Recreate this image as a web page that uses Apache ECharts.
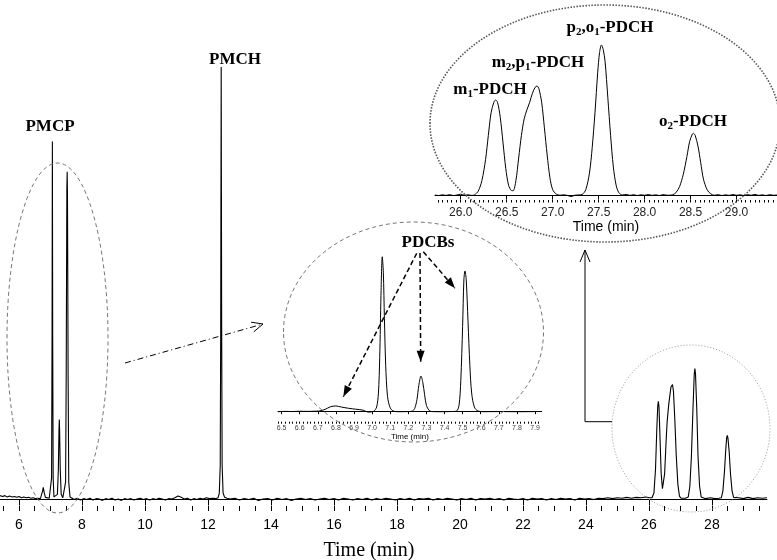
<!DOCTYPE html>
<html>
<head>
<meta charset="utf-8">
<script src="https://cdn.jsdelivr.net/npm/echarts@6/dist/echarts.min.js"></script>
<style>
html, body { margin: 0; padding: 0; background: #fff; }
#chart { width: 777px; height: 560px; }
</style>
</head>
<body>
<div id="chart"></div>
<script>
// full run, time (min) vs detector signal (arbitrary units, PMCH apex = 100)
const mainTrace = [
  [5.40,0.9],[5.48,0.7],[5.55,0.9],[5.63,0.6],[5.70,0.8],[5.78,0.6],[5.85,0.7],[5.93,0.5],[6.00,0.7],[6.08,0.4],
  [6.15,0.6],[6.23,0.4],[6.30,0.5],[6.38,0.3],[6.45,0.4],[6.53,0.2],[6.60,0.3],[6.68,0.2],
  [6.72,0.5],[6.75,2.0],[6.77,2.8],[6.80,1.6],[6.84,0.5],[6.90,0.2],[6.96,0.3],
  [7.01,0.3],[7.035,5],[7.05,38],[7.06,82.8],[7.07,38],[7.085,5],[7.11,0.6],
  [7.17,0.3],[7.22,1.2],[7.25,7],[7.27,16],[7.28,18.5],[7.29,16],[7.31,7],[7.34,1.2],[7.39,0.4],
  [7.44,0.3],[7.48,4],[7.50,30],[7.52,72],[7.53,75.8],[7.54,70],[7.56,28],[7.58,4],[7.62,0.6],[7.67,0.2],
  [7.75,0.0],[7.85,0.3],[7.95,-0.1],[8.05,0.2],[8.15,0.0],[8.25,0.3],[8.35,-0.1],[8.45,0.2],[8.55,0.1],[8.65,-0.2],
  [8.75,0.2],[8.85,0.0],[8.95,0.3],[9.05,-0.1],[9.15,0.1],[9.25,-0.2],[9.35,0.2],[9.45,0.0],[9.55,0.2],[9.65,-0.1],
  [9.75,0.1],[9.85,0.3],[9.95,0.0],[10.05,0.2],[10.15,-0.1],[10.25,0.2],[10.35,0.0],[10.45,0.3],[10.55,0.1],[10.65,-0.1],
  [10.75,0.2],[10.85,0.1],[10.95,0.4],[11.05,0.8],[11.15,0.5],[11.25,0.1],[11.35,0.3],[11.45,-0.1],[11.55,0.2],[11.65,0.0],
  [11.75,0.3],[11.85,0.1],[11.95,0.4],[12.05,0.2],[12.15,0.3],[12.25,0.2],
  [12.32,0.4],[12.36,1.5],[12.39,8],[12.405,40],[12.42,100],[12.435,40],[12.45,8],[12.48,1.5],[12.53,0.5],[12.60,0.3],
  [12.70,0.1],[12.85,0.3],[13.00,-0.1],[13.15,0.2],[13.30,0.0],[13.45,0.3],[13.60,-0.2],[13.75,0.1],[13.90,0.2],[14.05,-0.1],
  [14.20,0.3],[14.35,0.0],[14.50,0.2],[14.65,-0.2],[14.80,0.1],[14.95,0.3],[15.10,0.0],[15.25,0.2],[15.40,-0.1],[15.55,0.1],
  [15.70,0.3],[15.85,0.0],[16.00,0.2],[16.15,-0.1],[16.30,0.3],[16.45,0.1],[16.60,-0.1],[16.75,0.2],[16.90,0.0],[17.05,0.3],
  [17.20,-0.1],[17.35,0.2],[17.50,0.0],[17.65,0.3],[17.80,0.1],[17.95,-0.1],[18.10,0.2],[18.25,0.0],[18.40,0.3],[18.55,-0.1],
  [18.70,0.2],[18.85,0.1],[19.00,0.3],[19.15,-0.1],[19.30,0.2],[19.45,0.0],[19.60,0.3],[19.75,0.1],[19.90,-0.1],[20.05,0.2],
  [20.20,0.0],[20.35,0.3],[20.50,-0.1],[20.65,0.2],[20.80,0.1],[20.95,0.3],[21.10,0.0],[21.25,0.2],[21.40,-0.1],[21.55,0.3],
  [21.70,0.1],[21.85,0.0],[22.00,0.2],[22.15,-0.1],[22.30,0.3],[22.45,0.1],[22.60,0.2],[22.75,-0.1],[22.90,0.2],[23.05,0.0],
  [23.20,0.3],[23.35,0.1],[23.50,0.2],[23.65,-0.1],[23.80,0.3],[23.95,0.1],[24.10,0.2],[24.25,0.0],[24.40,0.3],[24.55,0.2],
  [24.70,0.4],[24.85,0.2],[25.00,0.4],[25.15,0.3],[25.30,0.5],[25.45,0.3],[25.60,0.5],[25.75,0.4],[25.90,0.6],[26.02,0.4],
  [26.10,0.4],[26.16,1.5],[26.21,7],[26.25,16],[26.28,21.5],[26.30,22.7],[26.32,21.5],[26.35,15],[26.39,6],[26.43,2.5],[26.46,2.6],
  [26.50,6],[26.55,14],[26.58,18],[26.63,22],[26.70,26],[26.75,26.6],[26.78,25],[26.82,19],[26.87,10],[26.92,3.5],[26.97,0.8],[27.02,0.3],
  [27.08,0.2],[27.16,0.3],
  [27.25,0.6],[27.30,3],[27.35,10],[27.40,21],[27.44,29],[27.46,30.3],[27.48,29],[27.52,21],[27.56,10],[27.61,3],[27.66,0.6],[27.72,0.2],
  [27.80,0.2],[27.95,0.4],[28.10,0.2],[28.22,0.3],
  [28.30,0.4],[28.35,2],[28.40,6.5],[28.44,11.5],[28.47,14.3],[28.49,14.8],[28.51,14.2],[28.55,11],[28.59,6],[28.64,2],[28.69,0.5],[28.75,0.2],
  [28.85,0.4],[29.00,0.2],[29.15,0.5],[29.30,0.2],[29.45,0.4],[29.60,0.3],[29.75,0.4]
];

// zoom on the PDCH group, PDCH p2,o1 apex = 100
const pdchTrace = [
  [25.72,0.5],[25.76,0.1],[25.80,0.6],[25.84,0.2],[25.88,0.7],[25.92,0.1],[25.96,0.5],[26.00,1.0],[26.04,0.3],[26.08,0.6],[26.12,0.2],
  [26.15,0.6],[26.19,3],[26.23,10],[26.27,24],[26.30,40],[26.33,55],[26.36,62],[26.38,63.5],[26.40,62],[26.43,52],[26.46,35],
  [26.49,18],[26.52,7],[26.55,3.5],[26.57,3.3],
  [26.60,10],[26.63,25],[26.66,40],[26.69,51],[26.72,57],[26.75,62],[26.78,68],[26.81,72],[26.83,72.8],[26.85,71],[26.88,62],
  [26.91,45],[26.94,27],[26.97,12],[27.00,4],[27.04,1],[27.08,0.3],
  [27.12,0.6],[27.16,0.2],[27.20,-0.6],[27.24,0.3],[27.28,0.5],
  [27.32,0.8],[27.36,4],[27.40,15],[27.43,32],[27.46,55],[27.49,82],[27.51,95],[27.53,100],[27.55,97],[27.57,89],[27.60,65],
  [27.63,40],[27.66,19],[27.69,7],[27.72,2],[27.76,0.5],
  [27.80,0.9],[27.84,0.2],[27.88,0.7],[27.92,0.1],[27.96,0.6],[28.00,0.3],[28.04,0.8],[28.08,0.2],[28.12,0.6],[28.16,0.1],[28.20,0.7],[28.25,0.3],
  [28.30,0.5],[28.34,2],[28.38,6],[28.42,14],[28.46,26],[28.49,36],[28.52,41],[28.53,41.4],[28.55,40],[28.58,33],[28.61,22],
  [28.64,11],[28.68,4],[28.72,1.2],[28.76,0.3],
  [28.80,0.7],[28.84,0.1],[28.88,0.6],[28.92,0.2],[28.96,0.8],[29.00,0.3],[29.04,0.6],[29.08,0.1],[29.12,0.7],[29.16,0.3],
  [29.20,0.9],[29.24,0.2],[29.28,0.6],[29.32,0.1],[29.36,0.7],[29.40,0.3],[29.44,0.5]
];

// zoom on the PMCP region (PDCB peaks), first PDCB apex = 100
const pdcbTrace = [
  [6.48,0.0],[6.52,0.2],[6.56,0.1],[6.60,0.3],[6.64,0.2],[6.68,0.3],[6.71,0.5],[6.74,1.5],[6.77,3.2],[6.80,3.7],
  [6.83,3.0],[6.87,2.2],[6.91,1.6],[6.95,1.0],[6.98,-0.3],[7.00,0.0],
  [7.01,0.3],[7.025,3],[7.035,12],[7.042,35],[7.049,75],[7.056,100],[7.062,90],[7.068,60],[7.075,30],[7.085,10],[7.10,2.5],[7.12,0.3],
  [7.15,0.0],[7.20,0.1],
  [7.22,0.3],[7.235,2],[7.248,8],[7.258,17],[7.27,23],[7.28,19],[7.29,11],[7.30,4],[7.315,0.8],[7.33,0.1],
  [7.38,0.0],[7.43,0.1],
  [7.465,0.3],[7.48,4],[7.49,20],[7.50,55],[7.507,85],[7.513,90.8],[7.52,85],[7.53,58],[7.54,30],[7.55,12],[7.565,3],[7.585,0.4],
  [7.62,0.0],[7.70,0.1],[7.80,0.0],[7.92,0.1]
];

const mainTickLabels = [6, 8, 10, 12, 14, 16, 18, 20, 22, 24, 26, 28];
const pdchTickLabels = [26.0, 26.5, 27.0, 27.5, 28.0, 28.5, 29.0];
const pdcbTickLabels = [6.5, 6.6, 6.7, 6.8, 6.9, 7.0, 7.1, 7.2, 7.3, 7.4, 7.5, 7.6, 7.7, 7.8, 7.9];

let steps = (from, to, step) => {
    let out = [];
    for (let v = from; v <= to + 1e-9; v += step) out.push(Math.round(v * 1000) / 1000);
    return out;
};

let arrowHead = (x1, y1, x2, y2, len, half) => {
    let a = Math.atan2(y2 - y1, x2 - x1);
    let bx = x2 - len * Math.cos(a), by = y2 - len * Math.sin(a);
    return [[bx + half * Math.sin(a), by - half * Math.cos(a)], [x2, y2], [bx - half * Math.sin(a), by + half * Math.cos(a)]];
};

let bold = { fontFamily: 'Liberation Serif', fontWeight: 'bold', fontSize: 17, lineHeight: 20 };
let sub = { fontFamily: 'Liberation Serif', fontWeight: 'bold', fontSize: 11, lineHeight: 10, verticalAlign: 'bottom' };
let label = (x, y, text) => ({
    type: 'text', x: x, y: y, z: 100,
    style: { text: text, rich: { b: bold, s: sub }, align: 'center', verticalAlign: 'middle', fill: '#000' }
});

let dashArrow = (x1, y1, x2, y2) => [
    { type: 'line', z: 100, shape: { x1: x1, y1: y1, x2: x2, y2: y2 },
      style: { stroke: '#000', lineWidth: 1.5, lineDash: [5, 3] } },
    { type: 'polygon', z: 100, shape: { points: arrowHead(x1, y1, x2, y2, 11, 4) }, style: { fill: '#000' } }
];

let chart = echarts.init(document.getElementById('chart'));

chart.setOption({
    animation: false,
    grid: [
        { left: 0, right: 10, top: 67, bottom: 54, outerBoundsMode: 'none' },
        { left: 435, right: 0, top: 45, bottom: 360, outerBoundsMode: 'none' },
        { left: 278, right: 235.3, top: 256.7, bottom: 138.3, outerBoundsMode: 'none' }
    ],
    xAxis: [
        {
            gridIndex: 0, type: 'value', min: 5.397, max: 29.75, position: 'bottom',
            axisLine: { show: true, lineStyle: { color: '#000', width: 1 } },
            axisTick: { show: true, length: 6, customValues: mainTickLabels, lineStyle: { color: '#000' } },
            axisLabel: { customValues: mainTickLabels, fontSize: 14, color: '#000', margin: 12, fontFamily: 'Liberation Sans' },
            splitLine: { show: false },
            name: 'Time (min)', nameLocation: 'middle', nameGap: 35,
            nameTextStyle: { fontFamily: 'Liberation Serif', fontSize: 20, color: '#000', padding: [0, 29, 0, 0] }
        },
        {
            gridIndex: 0, type: 'value', min: 5.397, max: 29.75, position: 'bottom', offset: 0,
            axisLine: { show: false },
            axisTick: { show: true, length: 5, customValues: steps(5.5, 29.5, 0.5), lineStyle: { color: '#000' } },
            axisLabel: { show: false },
            splitLine: { show: false }
        },
        {
            gridIndex: 1, type: 'value', min: 25.72, max: 29.44, position: 'bottom',
            axisLine: { show: true, lineStyle: { color: '#000', width: 1 } },
            axisTick: { show: true, length: 4, customValues: pdchTickLabels, lineStyle: { color: '#000' } },
            axisLabel: {
                customValues: pdchTickLabels, fontSize: 12, color: '#222', margin: 7, fontFamily: 'Liberation Sans',
                formatter: v => v.toFixed(1)
            },
            splitLine: { show: false },
            name: 'Time (min)', nameLocation: 'middle', nameGap: 20,
            nameTextStyle: { fontFamily: 'Liberation Sans', fontSize: 14, color: '#000' }
        },
        {
            gridIndex: 1, type: 'value', min: 25.72, max: 29.44, position: 'bottom', offset: 0,
            axisLine: { show: false },
            axisTick: { show: true, length: 2.5, customValues: steps(25.75, 29.4, 0.05), lineStyle: { color: '#000' } },
            axisLabel: { show: false },
            splitLine: { show: false }
        },
        {
            gridIndex: 2, type: 'value', min: 6.48, max: 7.937, position: 'bottom',
            axisLine: { show: true, lineStyle: { color: '#000', width: 1 } },
            axisTick: { show: true, length: 2.5, customValues: pdcbTickLabels, lineStyle: { color: '#000' } },
            axisLabel: {
                customValues: pdcbTickLabels, fontSize: 7, color: '#444', margin: 3, fontFamily: 'Liberation Sans',
                formatter: v => v.toFixed(1)
            },
            splitLine: { show: false },
            name: 'Time (min)', nameLocation: 'middle', nameGap: 11,
            nameTextStyle: { fontFamily: 'Liberation Sans', fontSize: 8, color: '#000' }
        },
        {
            gridIndex: 2, type: 'value', min: 6.48, max: 7.937, position: 'bottom', offset: 0,
            axisLine: { show: false },
            axisTick: { show: true, length: 2, customValues: steps(6.48, 7.92, 0.02), lineStyle: { color: '#000' } },
            axisLabel: { show: false },
            splitLine: { show: false }
        }
    ],
    yAxis: [
        { gridIndex: 0, type: 'value', min: -1.5, max: 100, show: false },
        { gridIndex: 1, type: 'value', min: -2.85, max: 100, show: false },
        { gridIndex: 2, type: 'value', min: -6.45, max: 100, show: false }
    ],
    series: [
        {
            type: 'line', name: 'run', xAxisIndex: 0, yAxisIndex: 0, data: mainTrace,
            showSymbol: false, lineStyle: { color: '#000', width: 1.1 }
        },
        {
            type: 'line', name: 'PDCH', xAxisIndex: 2, yAxisIndex: 1, data: pdchTrace, smooth: 0.3,
            showSymbol: false, lineStyle: { color: '#000', width: 1 }
        },
        {
            type: 'line', name: 'PDCB', xAxisIndex: 4, yAxisIndex: 2, data: pdcbTrace, smooth: 0.3,
            showSymbol: false, lineStyle: { color: '#000', width: 1 }
        }
    ],
    graphic: [
        // circles round the regions
        { type: 'ellipse', z: 90, shape: { cx: 57.5, cy: 338, rx: 50.5, ry: 175 },
          style: { fill: 'none', stroke: '#777', lineWidth: 1, lineDash: [4, 3] } },
        { type: 'ellipse', z: 90, shape: { cx: 413.5, cy: 332, rx: 130, ry: 110 },
          style: { fill: 'none', stroke: '#777', lineWidth: 1, lineDash: [4, 3] } },
        { type: 'ellipse', z: 90, shape: { cx: 605, cy: 123.5, rx: 175, ry: 118.5 },
          style: { fill: 'none', stroke: '#555', lineWidth: 1.6, lineDash: [1.5, 1.5] } },
        { type: 'ellipse', z: 90, shape: { cx: 691, cy: 428.5, rx: 79, ry: 83.5 },
          style: { fill: 'none', stroke: '#999', lineWidth: 1, lineDash: [1, 2] } },
        // dash-dot pointer from the PMCP region
        { type: 'line', z: 100, shape: { x1: 125, y1: 363, x2: 263, y2: 324 },
          style: { stroke: '#000', lineWidth: 1, lineDash: [6, 3, 1, 3] } },
        { type: 'polyline', z: 100, shape: { points: arrowHead(125, 363, 263, 324, 11, 5) },
          style: { stroke: '#000', lineWidth: 1, fill: 'none' } },
        // connector from the PDCH group to its zoom
        { type: 'polyline', z: 100, shape: { points: [[612, 421.7], [585, 421.7], [585, 250]] },
          style: { stroke: '#000', lineWidth: 1, fill: 'none' } },
        { type: 'polyline', z: 100, shape: { points: arrowHead(585, 421.7, 585, 250, 12, 5) },
          style: { stroke: '#000', lineWidth: 1, fill: 'none' } },
        ...dashArrow(416.7, 253.3, 343.3, 396.7),
        ...dashArrow(420, 253, 420.7, 361.7),
        ...dashArrow(423.3, 251.7, 455, 288.3),
        label(50, 127, '{b|PMCP}'),
        label(235, 60, '{b|PMCH}'),
        label(428, 243, '{b|PDCBs}'),
        label(490, 90, '{b|m}{s|1}{b|-PDCH}'),
        label(538, 63, '{b|m}{s|2}{b|,p}{s|1}{b|-PDCH}'),
        label(610, 28, '{b|p}{s|2}{b|,o}{s|1}{b|-PDCH}'),
        label(693, 122, '{b|o}{s|2}{b|-PDCH}')
    ]
});

window.onresize = () => {
    chart.resize();
};
</script>
</body>
</html>
